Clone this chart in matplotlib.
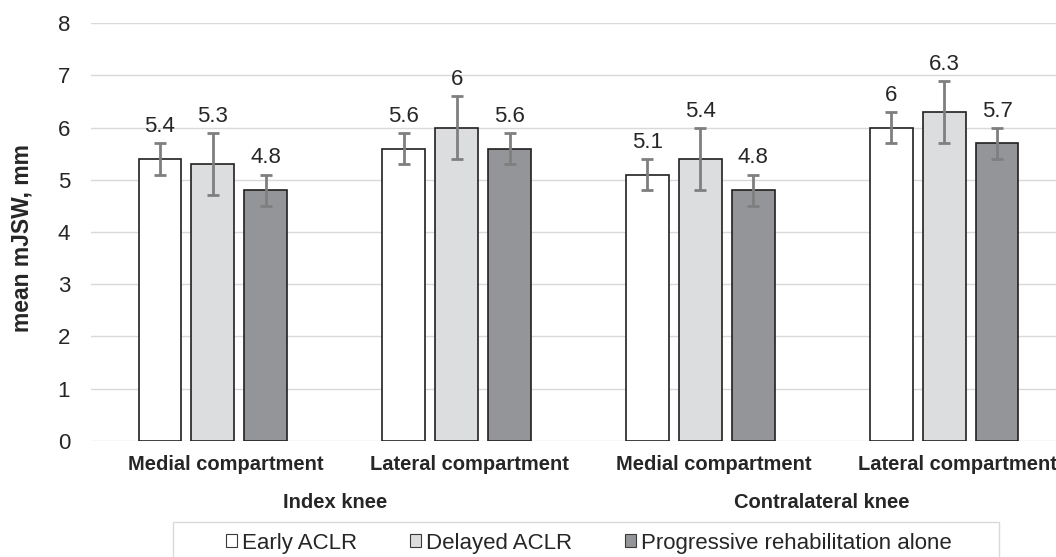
import matplotlib.pyplot as plt
import matplotlib.transforms as mtransforms
from matplotlib.patches import Patch, Rectangle
import numpy as np

plt.rcParams['font.family'] = ['Liberation Sans', 'DejaVu Sans']

# values
categories = ["Medial compartment", "Lateral compartment",
              "Medial compartment", "Lateral compartment"]
groups = ["Index knee", "Contralateral knee"]
series = ["Early ACLR", "Delayed ACLR", "Progressive rehabilitation alone"]
early = [5.4, 5.6, 5.1, 6.0]
delayed = [5.3, 6.0, 5.4, 6.3]
progressive = [4.8, 5.6, 4.8, 5.7]
early_err = [0.3, 0.3, 0.3, 0.3]
delayed_err = [0.6, 0.6, 0.6, 0.6]
progressive_err = [0.3, 0.3, 0.3, 0.3]

colors = ["#FFFFFF", "#DCDDDF", "#939598"]
edge = "#231F20"
txt = "#262626"

W, H = 1056, 557
fig = plt.figure(figsize=(W / 100, H / 100), dpi=100)
# axes runs a little past the right edge, like the cropped original
ax = fig.add_axes([91 / W, (H - 440.7) / H, 975 / W, (440.7 - 23.3) / H])

x = np.arange(len(categories))
offsets = [-0.217, 0, 0.217]
width = 0.176
vals = [early, delayed, progressive]
errs = [early_err, delayed_err, progressive_err]

for i in range(3):
    ax.bar(x + offsets[i], vals[i], width, color=colors[i], edgecolor=edge,
           linewidth=1.2, zorder=3, label=series[i])
    ax.errorbar(x + offsets[i], vals[i], yerr=errs[i], fmt="none",
                ecolor="#7F7F7F", elinewidth=2, capsize=4, capthick=2, zorder=4)
    # value labels sit just above the error bar cap
    for xi, v, e in zip(x + offsets[i], vals[i], errs[i]):
        ax.annotate(f"{v:g}", (xi, v + e), xytext=(0, 8), textcoords="offset points",
                    ha="center", va="baseline", fontsize=16, color=txt)

ax.set_xlim(-0.5, 3.5)
ax.set_ylim(0, 8)
ax.set_yticks(range(0, 9))
ax.grid(axis="y", color="#D9D9D9", linewidth=1, zorder=0)
for s in ax.spines.values():
    s.set_visible(False)
ax.tick_params(axis="both", length=0, labelsize=16, labelcolor=txt)
ax.tick_params(axis="y", pad=15)
ax.tick_params(axis="x", pad=10, labelsize=14.5)

ax.set_xticks(x)
ax.set_xticklabels(categories, fontweight="bold")
shift = mtransforms.ScaledTranslation(13 / 100, 0, fig.dpi_scale_trans)
for lab in ax.get_xticklabels():
    lab.set_transform(lab.get_transform() + shift)

# knee group labels under each pair of categories
for gi, g in enumerate(groups):
    gx = (x[2 * gi] + x[2 * gi + 1]) / 2
    ax.text(gx, (H - 502) / H, g, transform=mtransforms.blended_transform_factory(ax.transData, fig.transFigure),
            ha="center", va="center", fontsize=14.5, fontweight="bold", color=txt)

fig.text(22 / W, (H - 238) / H, "mean mJSW, mm", rotation=90, ha="center", va="center",
         fontsize=16.5, fontweight="bold", color=txt)

# legend frame and entries
fig.patches.append(Rectangle((173 / W, (H - 564) / H), 826 / W, 42 / H,
                             transform=fig.transFigure, facecolor="white",
                             edgecolor="#D9D9D9", linewidth=1))
handles = [Patch(facecolor=c, edgecolor="#3A3A3A", linewidth=0.8) for c in colors]
fig.legend(handles, series, loc="center left", bbox_to_anchor=(226 / W, (H - 543) / H),
           ncol=3, frameon=False, fontsize=16, handlelength=0.5, handleheight=0.5,
           handletextpad=0.23, columnspacing=2.36, borderpad=0, borderaxespad=0,
           labelcolor=txt)

fig.savefig("out.png", dpi=100)
